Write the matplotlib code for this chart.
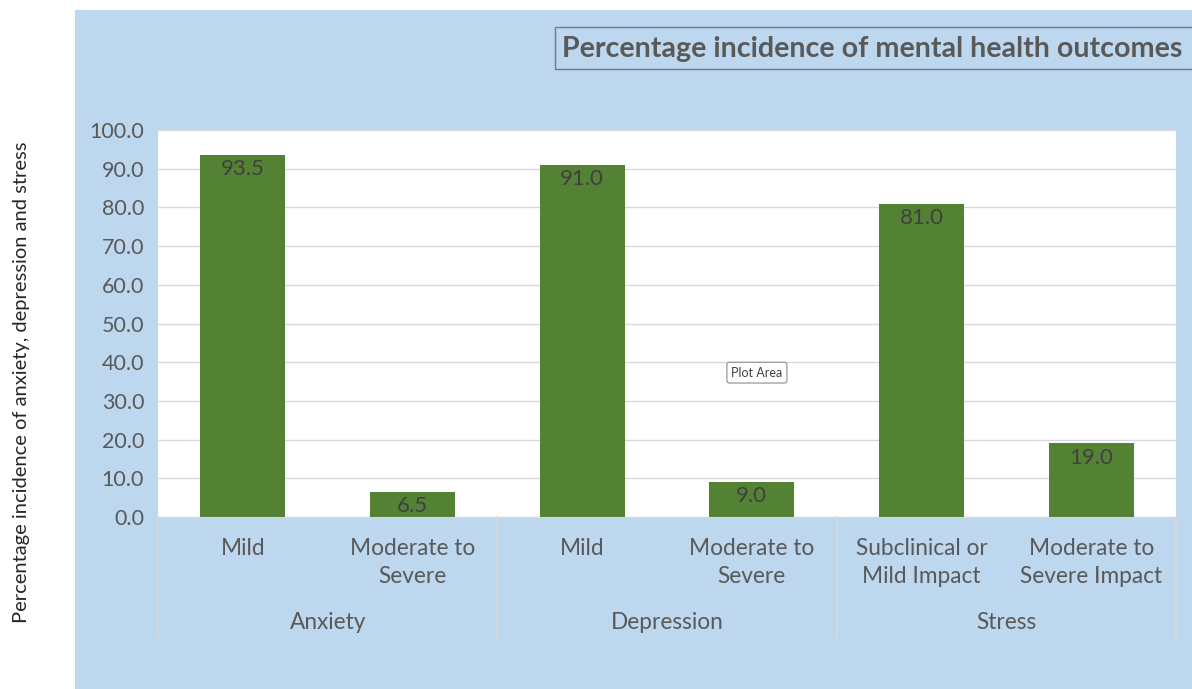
#!/usr/bin/env python3
"""Percentage incidence of mental health outcomes - grouped category bar chart."""

import matplotlib
matplotlib.use('Agg')
import matplotlib.pyplot as plt
from matplotlib.patches import Rectangle
import matplotlib.transforms as mtransforms

# Data
groups = ['Anxiety', 'Depression', 'Stress']
categories = ['Mild', 'Moderate to\nSevere',
              'Mild', 'Moderate to\nSevere',
              'Subclinical or\nMild Impact', 'Moderate to\nSevere Impact']
values = [93.5, 6.5, 91.0, 9.0, 81.0, 19.0]
y_ticks = [0, 10, 20, 30, 40, 50, 60, 70, 80, 90, 100]

BLUE = '#BDD7EE'
GREEN = '#548235'
TEXT = '#595959'

plt.rcParams['font.family'] = ['Lato', 'DejaVu Sans']

fig = plt.figure(figsize=(11.92, 6.89), dpi=100)
fig.patch.set_facecolor('white')

# light blue chart area (behind the axes)
fig.patches.append(Rectangle((75 / 1192, 0), 1 - 75 / 1192, 1 - 10 / 689,
                             transform=fig.transFigure, facecolor=BLUE,
                             edgecolor='none', zorder=-10))

ax = fig.add_axes([158 / 1192, 1 - 517 / 689, (1176 - 158) / 1192, (517 - 130) / 689])
ax.set_facecolor('white')

x = list(range(len(values)))
ax.bar(x, values, width=0.5, color=GREEN, zorder=3)
ax.set_xlim(-0.5, len(values) - 0.5)
ax.set_ylim(0, 100)

# value labels inside bars
for xi, v in zip(x, values):
    ax.annotate(f'{v:.1f}', (xi, v), xytext=(0, -3), textcoords='offset points',
                ha='center', va='top', fontsize=16, color='#404040', zorder=4)

ax.set_yticks(y_ticks)
ax.set_yticklabels([f'{t:.1f}' for t in y_ticks], fontsize=15.5, color=TEXT)
ax.set_xticks([])
ax.tick_params(axis='y', length=0, pad=10)
ax.grid(axis='y', color='#D9D9D9', linewidth=1)
ax.set_axisbelow(True)
for side in ['top', 'right', 'left']:
    ax.spines[side].set_visible(False)
ax.spines['bottom'].set_color('#D9D9D9')

# category and group labels below the axis
trans = mtransforms.blended_transform_factory(ax.transData, ax.transAxes)
for xi, cat in zip(x, categories):
    ax.text(xi, -0.055, cat, transform=trans, ha='center', va='top',
            fontsize=16.3, color=TEXT, linespacing=1.42)
for gi, g in enumerate(groups):
    ax.text(gi * 2 + 0.5, -0.273, g, transform=trans, ha='center', va='center',
            fontsize=16.3, color=TEXT)
for b in [-0.5, 1.5, 3.5, 5.5]:
    ax.plot([b, b], [0, -0.31], transform=trans, color='#D9D9D9',
            linewidth=1.2, clip_on=False)

# y axis title on the white margin
fig.text(22 / 1192, 1 - 382 / 689, 'Percentage incidence of anxiety, depression and stress',
         rotation=90, ha='center', va='center', fontsize=14.5, color='#262626')

# title in a framed box
fig.text(562 / 1192, 1 - 49 / 689, 'Percentage incidence of mental health outcomes',
         ha='left', va='center', fontsize=20.6, fontweight='bold', color=TEXT)
fig.patches.append(Rectangle((555 / 1192, 1 - 69 / 689), (1200 - 555) / 1192, 42 / 689,
                             transform=fig.transFigure, facecolor='none',
                             edgecolor='#6F7B88', linewidth=1))

# "Plot Area" tooltip
ax.text(3.03, 37.3, 'Plot Area', ha='center', va='center', fontsize=9, color='#404040',
        zorder=6, bbox=dict(boxstyle='round,pad=0.35,rounding_size=0.2',
                            facecolor='white', edgecolor='#8C8C8C', linewidth=0.8))

fig.savefig('out.png', dpi=100, facecolor='white')
